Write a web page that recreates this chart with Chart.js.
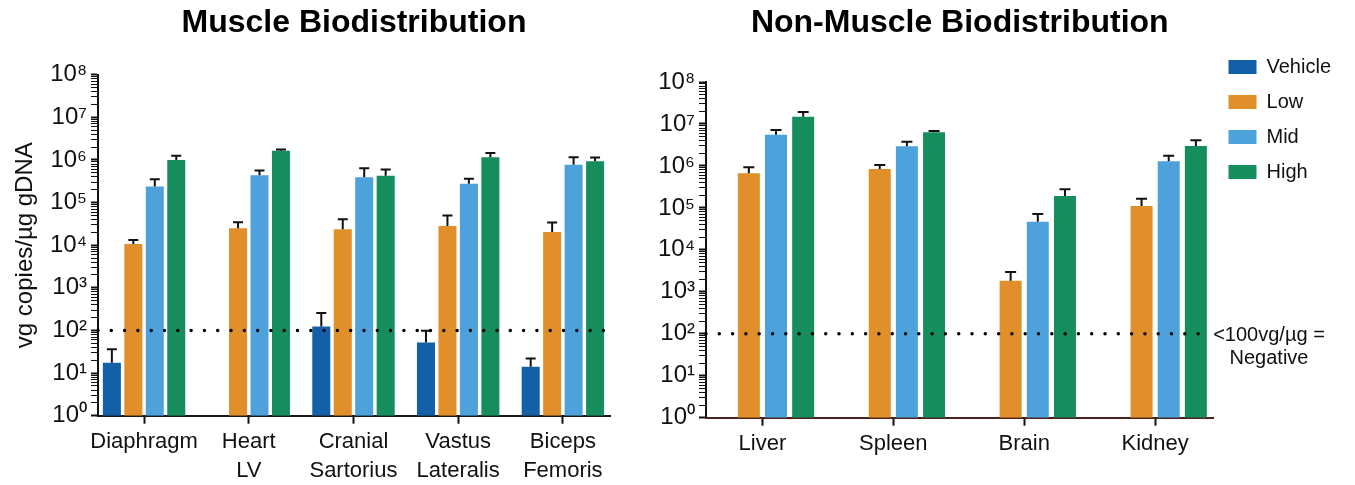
<!DOCTYPE html>
<html><head><meta charset="utf-8">
<script src="https://cdn.jsdelivr.net/npm/chart.js@4.4.1/dist/chart.umd.min.js"></script>
<style>
html,body{margin:0;padding:0;background:#fff;}
#wrap{position:relative;width:1355px;height:485px;overflow:hidden;background:#fff;}
canvas{position:absolute;top:0;}
#c1{left:0;} #c2{left:645px;}
</style></head><body>
<div id="wrap"><canvas id="c1" width="645" height="485"></canvas><canvas id="c2" width="710" height="485"></canvas></div>
<script>
// ---- data ----
const seriesNames = ['Vehicle', 'Low', 'Mid', 'High'];
const seriesColors = ['#135fa8', '#e08f2b', '#4ea2dc', '#168d5d'];

const muscleCategories = [['Diaphragm'], ['Heart', 'LV'], ['Cranial', 'Sartorius'], ['Vastus', 'Lateralis'], ['Biceps', 'Femoris']];
const muscleVehicle    = [17.5, null, 123, 52, 14];
const muscleVehicleErr = [36, null, 258, 99, 22];
const muscleLow        = [10700, 25100, 23800, 28400, 20500];
const muscleLowErr     = [13300, 34700, 40800, 49500, 33900];
const muscleMid        = [237000, 440000, 395000, 275000, 767000];
const muscleMidErr     = [354000, 564000, 642000, 360000, 1160000];
const muscleHigh       = [1000000, 1640000, 424000, 1160000, 937000];
const muscleHighErr    = [1250000, 1750000, 596000, 1450000, 1140000];

const otherCategories = [['Liver'], ['Spleen'], ['Brain'], ['Kidney']];
const otherVehicle    = [null, null, null, null];
const otherVehicleErr = [null, null, null, null];
const otherLow        = [667000, 846000, 1840, 111000];
const otherLowErr     = [927000, 1050000, 2970, 166000];
const otherMid        = [5550000, 2940000, 46900, 1290000];
const otherMidErr     = [7200000, 3780000, 71600, 1750000];
const otherHigh       = [14900000, 6340000, 192000, 2990000];
const otherHighErr    = [19300000, 6800000, 277000, 4080000];

const tickExponents = [0, 1, 2, 3, 4, 5, 6, 7, 8];
const negativeThreshold = 100;
const thresholdLabel = ['<100vg/\u00b5g =', 'Negative'];
const yAxisTitle = 'vg copies/\u00b5g gDNA';
const chartTitles = ['Muscle Biodistribution', 'Non-Muscle Biodistribution'];

// ---- helpers ----
Chart.defaults.font.family = '"Liberation Sans", Arial, Helvetica, sans-serif';
Chart.defaults.color = '#111';
const SUP = ['\u2070','\u00b9','\u00b2','\u00b3','\u2074','\u2075','\u2076','\u2077','\u2078','\u2079'];
function fmtLog(v) {
  const e = Math.round(Math.log10(v));
  if (Math.abs(v - Math.pow(10, e)) < 1e-6 * v) return '10' + String(e).split('').map(d => SUP[+d]).join('');
  return '';
}
function logTicks(scale) {
  const t = [];
  const last = tickExponents[tickExponents.length - 1];
  tickExponents.forEach(e => {
    const lim = e === last ? 1 : 9;
    for (let s = 1; s <= lim; s++) t.push({value: s * Math.pow(10, e), major: s === 1});
  });
  scale.ticks = t;
}
function makeDatasets(vals, errs, catPct, barPct) {
  return seriesNames.map((n, k) => ({
    label: n,
    data: vals[k].map((v, i) => ({x: i, y: v})),
    errorTops: errs[k],
    backgroundColor: seriesColors[k],
    borderWidth: 0,
    categoryPercentage: catPct,
    barPercentage: barPct
  }));
}

const overlayPlugin = {
  id: 'overlay',
  afterDatasetsDraw(chart, args, opts) {
    const {ctx, chartArea} = chart;
    const y = chart.scales.y;
    ctx.save();
    // error bars (upper whiskers)
    ctx.strokeStyle = '#111';
    ctx.lineWidth = 2;
    chart.data.datasets.forEach((ds, k) => {
      const meta = chart.getDatasetMeta(k);
      meta.data.forEach((bar, i) => {
        const top = ds.errorTops[i];
        const v = ds.data[i].y;
        if (top == null || v == null) return;
        const yT = y.getPixelForValue(top);
        ctx.beginPath();
        ctx.moveTo(bar.x, bar.y);
        ctx.lineTo(bar.x, yT);
        ctx.moveTo(bar.x - opts.cap / 2, yT);
        ctx.lineTo(bar.x + opts.cap / 2, yT);
        ctx.stroke();
      });
    });
    // dotted threshold line
    const yt = y.getPixelForValue(negativeThreshold);
    ctx.strokeStyle = '#000';
    ctx.lineWidth = 3.5;
    ctx.lineCap = 'round';
    ctx.setLineDash([0, 13.3]);
    ctx.beginPath();
    ctx.moveTo(chartArea.left, yt);
    ctx.lineTo(chartArea.right - 4, yt);
    ctx.stroke();
    ctx.setLineDash([]);
    if (opts.label) {
      ctx.fillStyle = '#111';
      ctx.font = '20px "Liberation Sans", Arial, sans-serif';
      ctx.textAlign = 'center';
      ctx.textBaseline = 'middle';
      ctx.fillText(thresholdLabel[0], opts.labelX, yt + 2);
      ctx.fillText(thresholdLabel[1], opts.labelX, yt + 25);
    }
    ctx.restore();
  }
};

function makeChart(canvasId, cfg) {
  return new Chart(document.getElementById(canvasId), {
    type: 'bar',
    data: {datasets: cfg.datasets},
    plugins: [overlayPlugin],
    options: {
      responsive: false,
      animation: false,
      devicePixelRatio: 1,
      layout: {padding: cfg.padding},
      plugins: {
        legend: cfg.legend,
        tooltip: {enabled: false},
        title: {
          display: true, text: cfg.title, fullSize: false, color: '#000',
          font: {size: 32, weight: 'bold', lineHeight: 1.2},
          padding: {top: 4, bottom: cfg.titleBottom}
        },
        overlay: cfg.overlay
      },
      scales: {
        x: {
          type: 'linear', min: cfg.xMin, max: cfg.xMax, offset: false,
          afterBuildTicks: s => { s.ticks = cfg.categories.map((c, i) => ({value: i})); },
          afterFit: s => { s.height = cfg.xHeight; },
          border: {display: true, color: cfg.xAxisColor, width: 2},
          grid: {display: true, offset: false, drawOnChartArea: false, drawTicks: true, tickLength: 8, tickWidth: 2, tickColor: '#111'},
          ticks: {autoSkip: false, maxRotation: 0, minRotation: 0, padding: 4, color: '#111',
                  font: {size: 22, lineHeight: 1.3},
                  callback: v => cfg.categories[Math.round(v)]}
        },
        y: {
          type: 'logarithmic', min: 1, max: 1e8,
          afterBuildTicks: logTicks,
          afterFit: s => { s.width = cfg.yWidth; },
          border: {display: true, color: '#111', width: 2},
          grid: {display: true, drawOnChartArea: false, drawTicks: true, tickLength: 7, tickColor: '#111',
                 tickWidth: c => (c.tick && c.tick.major) ? 2 : 1},
          ticks: {autoSkip: false, padding: 4, color: '#111', font: {size: 24}, callback: fmtLog},
          title: cfg.yTitle
        }
      }
    }
  });
}

makeChart('c1', {
  datasets: makeDatasets([muscleVehicle, muscleLow, muscleMid, muscleHigh],
                         [muscleVehicleErr, muscleLowErr, muscleMidErr, muscleHighErr], 0.82, 0.84),
  categories: muscleCategories,
  title: chartTitles[0],
  titleBottom: 32.3,
  padding: {left: 0, right: 35, top: 0, bottom: 0},
  legend: {display: false},
  overlay: {cap: 10, label: false},
  xMin: -0.44, xMax: 4.45, xHeight: 69.3, xAxisColor: '#1a1a1a',
  yWidth: 98,
  yTitle: {display: true, text: yAxisTitle, color: '#111', font: {size: 24, lineHeight: 1.2}, padding: {top: 11, bottom: 0}}
});

makeChart('c2', {
  datasets: makeDatasets([otherVehicle, otherLow, otherMid, otherHigh],
                         [otherVehicleErr, otherLowErr, otherMidErr, otherHighErr], 0.83, 0.81),
  categories: otherCategories,
  title: chartTitles[1],
  titleBottom: 39.6,
  padding: {left: 0, right: 14, top: 0, bottom: 0},
  legend: {
    display: true, position: 'right', align: 'start', fullSize: true,
    title: {display: true, text: '', font: {size: 10, lineHeight: 1.2}, padding: {top: 15, bottom: 15}},
    labels: {boxWidth: 28, boxHeight: 14, padding: 15, color: '#111', font: {size: 20}}
  },
  overlay: {cap: 11, label: true, labelX: 624},
  xMin: -0.431, xMax: 3.446, xHeight: 67.3, xAxisColor: '#4a2219',
  yWidth: 61,
  yTitle: {display: false}
});
</script>
</body></html>
